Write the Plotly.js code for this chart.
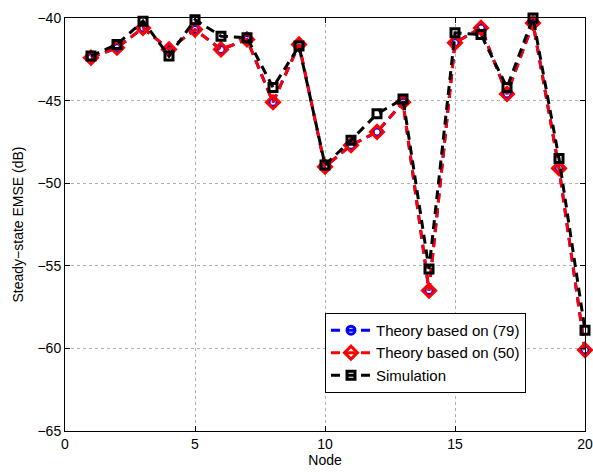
<!DOCTYPE html>
<html><head><meta charset="utf-8">
<script src="https://cdn.plot.ly/plotly-3.0.1.min.js"></script>
<style>body{margin:0;padding:0;background:#fff}#plot{width:593px;height:472px}</style>
</head><body><div id="plot"></div>
<script>
const nodes = [1,2,3,4,5,6,7,8,9,10,11,12,13,14,15,16,17,18,19,20];
const theory79 = [-42.4,-41.8,-40.6,-41.9,-40.7,-41.9,-41.3,-45.1,-41.6,-49.0,-47.7,-46.9,-45.1,-56.5,-41.5,-40.6,-44.6,-40.3,-49.1,-60.1];
const theory50 = [-42.4,-41.8,-40.6,-41.9,-40.7,-41.9,-41.3,-45.1,-41.6,-49.0,-47.7,-46.9,-45.1,-56.5,-41.5,-40.6,-44.6,-40.3,-49.1,-60.1];
const simulation = [-42.3,-41.6,-40.2,-42.3,-40.1,-41.1,-41.2,-44.2,-41.7,-48.9,-47.4,-45.8,-44.9,-55.2,-40.9,-41.0,-44.2,-40.0,-48.5,-58.9];
const names = ['Theory based on (79)','Theory based on (50)','Simulation'];

const dash = '9px,6px';
const font = 'Liberation Sans, Arial, sans-serif';
const traces = [
 {x:nodes,y:theory79,name:names[0],mode:'lines+markers',cliponaxis:false,
  line:{color:'#0000ff',width:3,dash:dash},
  marker:{symbol:'circle-open',size:8,color:'#0000ff',line:{width:3,color:'#0000ff'}}},
 {x:nodes,y:theory50,name:names[1],mode:'lines+markers',cliponaxis:false,
  line:{color:'#ff0000',width:3,dash:dash},
  marker:{symbol:'diamond-open',size:10,color:'#ff0000',line:{width:3,color:'#ff0000'}}},
 {x:nodes,y:simulation,name:names[2],mode:'lines+markers',cliponaxis:false,
  line:{color:'#000000',width:3,dash:dash},
  marker:{symbol:'square-open',size:8,color:'#000000',line:{width:3,color:'#000000'}}}
];
const axisCommon = {showline:true,mirror:'ticks',linecolor:'#000',linewidth:1,
  ticks:'inside',ticklen:5,tickcolor:'#000',showgrid:true,gridcolor:'#b0b0b0',griddash:'dot',gridwidth:1,
  zeroline:false,tickfont:{family:font,size:14,color:'#000'}};
const layout = {
  width:593,height:472,
  margin:{l:65,r:8,t:18,b:41},
  paper_bgcolor:'#fff',plot_bgcolor:'#fff',
  xaxis:Object.assign({},axisCommon,{range:[0,20],tickvals:[0,5,10,15,20],
    title:{text:'Node',font:{family:font,size:14,color:'#000'},standoff:1}}),
  yaxis:Object.assign({},axisCommon,{range:[-65,-40],tickvals:[-65,-60,-55,-50,-45,-40],
    title:{text:'Steady\u2212state EMSE (dB)',font:{family:font,size:14,color:'#000'},standoff:10}}),
  legend:{x:0.5,y:0.286,xanchor:'left',yanchor:'top',bgcolor:'#fff',bordercolor:'#000',borderwidth:1,
    font:{family:font,size:15,color:'#000'},itemwidth:40,tracegroupgap:0},
  showlegend:true
};
Plotly.newPlot('plot',traces,layout,{staticPlot:true});
</script></body></html>
